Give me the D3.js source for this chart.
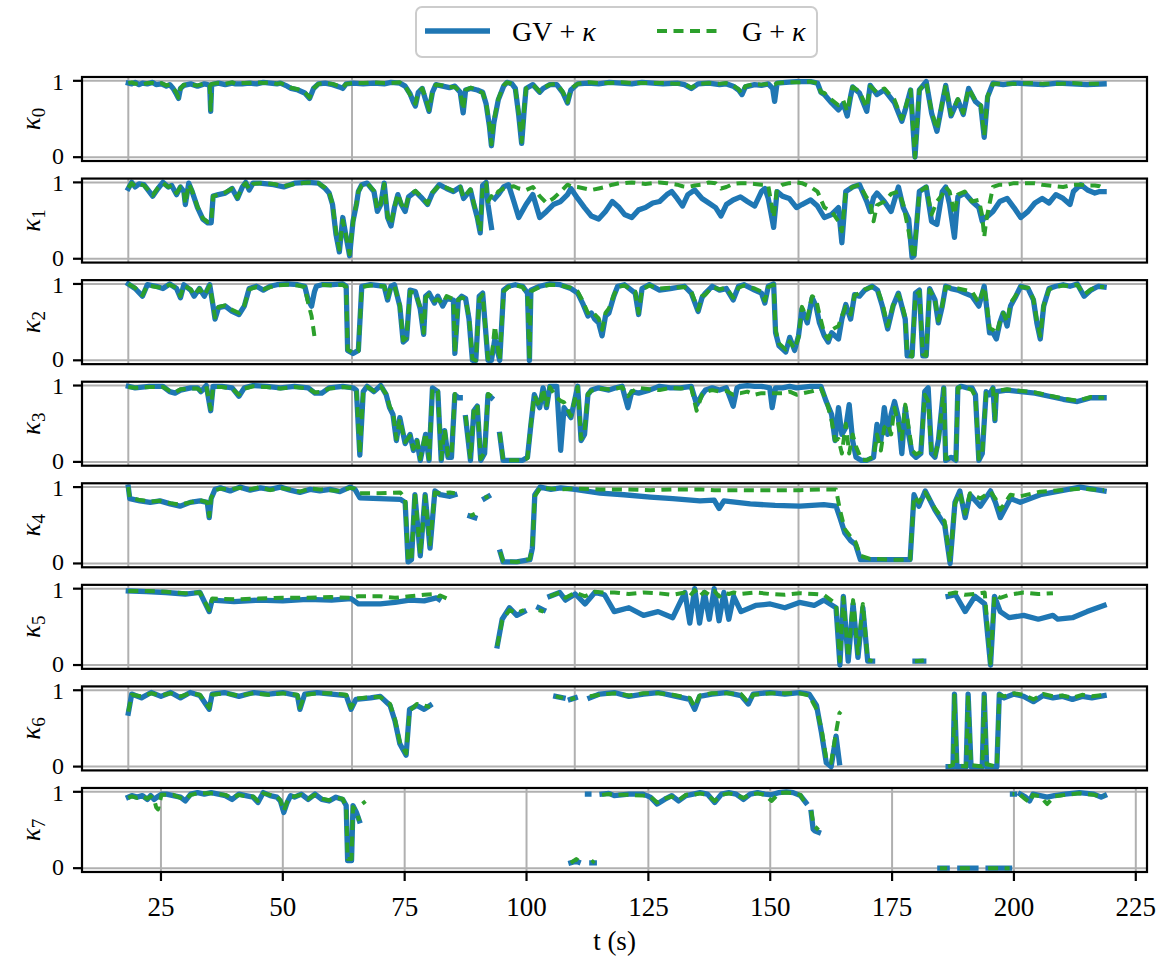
<!DOCTYPE html>
<html>
<head>
<meta charset="utf-8">
<script src="https://cdn.jsdelivr.net/npm/d3@7"></script>
<style>
  body { margin: 0; background: #fff; }
  svg text { font-family: "Liberation Serif", "DejaVu Serif", serif; fill: #000; }
</style>
</head>
<body>
<div id="chart"></div>
<script>
// Each row: [t (s), GV+κ, G+κ]; null marks a gap in that series.
const kappa0 = [
  [18.3,.97,.97],[19.0,.96,.98],[19.7,.98,.96],[20.5,.95,.97],[21.2,.97,.95],[22.2,.96,.97],[23.3,.98,.97],
  [24.0,.95,.96],[25.1,.96,.97],[26.1,.93,.94],[26.8,.95,.95],[27.5,.90,.91],[28.2,.82,.84],[28.6,.77,.78],
  [29.0,.90,.90],[29.7,.94,.95],[31.1,.96,.95],[32.5,.93,.94],[33.9,.96,.96],[34.6,.95,.96],[35.0,.94,.95],
  [35.2,.60,.62],[35.4,.95,.96],[36.8,.97,.97],[38.2,.95,.96],[39.6,.97,.98],[40.3,.96,.96],[41.7,.96,.97],
  [43.1,.97,.97],[44.6,.96,.98],[46.0,.98,.97],[47.4,.97,.98],[48.8,.96,.96],[49.5,.97,.97],[50.9,.93,.94],
  [51.7,.90,.91],[53.1,.88,.89],[54.5,.84,.85],[55.5,.77,.78],[56.3,.90,.90],[57.3,.96,.96],[58.7,.97,.97],
  [60.2,.95,.96],[61.6,.92,.93],[62.3,.90,.91],[63.0,.96,.96],[64.4,.97,.97],[66.5,.96,.97],[68.7,.97,.98],
  [70.8,.96,.97],[72.2,.98,.97],[74.0,.97,.98],[75.1,.93,.93],[76.1,.83,.82],[76.8,.72,.75],[77.2,.67,.70],
  [77.8,.85,.86],[78.6,.90,.90],[79.3,.75,.78],[80.0,.60,.62],[80.7,.85,.86],[81.4,.95,.95],[82.8,.93,.94],
  [84.2,.91,.92],[85.3,.93,.92],[86.4,.85,.86],[87.0,.58,.62],[87.5,.88,.88],[88.5,.90,.91],[89.9,.88,.88],
  [91.0,.85,.84],[91.7,.70,.72],[92.4,.40,.42],[92.8,.15,.17],[93.3,.45,.48],[94.2,.75,.76],[95.3,.93,.94],
  [96.0,.98,.98],[97.0,.96,.96],[97.7,.90,.90],[98.4,.55,.58],[99.0,.18,.20],[99.5,.60,.62],[99.9,.90,.90],
  [101.3,.95,.95],[102.7,.85,.86],[103.4,.90,.91],[104.8,.95,.95],[106.2,.95,.96],[107.4,.85,.86],
  [108.4,.71,.72],[109.1,.88,.90],[110.5,.96,.96],[112.6,.97,.98],[114.8,.96,.97],[117.0,.98,.97],
  [119.4,.97,.98],[121.6,.96,.97],[123.7,.98,.97],[125.9,.97,.97],[128.0,.96,.97],[130.9,.97,.96],
  [132.4,.95,.96],[133.8,.90,.91],[135.2,.96,.96],[137.4,.97,.97],[139.6,.95,.96],[141.0,.96,.97],
  [142.4,.93,.94],[143.5,.88,.89],[144.2,.82,.83],[144.9,.92,.93],[146.8,.95,.96],[148.2,.94,.95],
  [149.6,.96,.96],[150.5,.90,.95],[150.9,.73,.95],[151.4,.97,.97],[153.2,.98,.98],[155.4,.99,.98],
  [158.3,.99,.99],[159.7,.97,.97],[160.4,.85,.85],[161.1,.82,.84],[162.6,.71,.75],[164.0,.62,.68],
  [165.0,.70,.74],[165.8,.54,.60],[166.5,.80,.82],[166.9,.92,.92],[168.3,.84,.86],[169.8,.60,.65],
  [170.5,.94,.93],[171.9,.82,.85],[173.4,.88,.90],[175.5,.71,.75],[177.0,.47,.50],[177.7,.62,.64],
  [178.8,.88,.88],[179.7,.0,.0],[180.6,.88,.88],[182.0,.99,.98],[183.1,.58,.60],[184.2,.34,.36],
  [185.3,.71,.72],[186.0,.94,.94],[187.1,.54,.56],[188.5,.75,.76],[189.6,.56,.58],[190.7,.90,.90],
  [192.1,.73,.74],[193.2,.67,.68],[193.9,.26,.28],[194.6,.79,.80],[195.7,.97,.96],[197.8,.95,.96],
  [200.0,.97,.96],[203.0,.96,.97],[206.0,.95,.96],[209.0,.97,.96],[212.0,.96,.97],[215.0,.95,.96],[218.5,.96,.96]
];

const kappa1 = [
  [18.3,.92,.93],[19.0,1.0,.99],[19.7,.94,.95],[20.5,.98,.98],[21.5,.97,.96],[22.6,.88,.89],[23.3,.82,.83],
  [24.4,.92,.93],[25.4,1.0,.99],[26.5,.94,.94],[27.2,.96,.96],[28.2,.84,.86],[29.0,.94,.94],[29.7,.88,.88],
  [30.0,.71,.72],[30.7,.99,.98],[31.4,.88,.89],[32.5,.67,.68],[33.6,.52,.53],[34.6,.47,.48],[35.3,.47,.48],
  [35.7,.82,.82],[36.8,.84,.84],[38.2,.86,.87],[39.6,.92,.92],[40.7,.79,.80],[41.7,.94,.95],[42.4,1.0,.99],
  [43.1,.90,.91],[43.9,.99,.98],[45.3,.99,.99],[48.1,.97,.98],[50.2,.94,.95],[52.4,.99,.98],[55.2,1.0,1.0],
  [57.3,.99,.99],[58.7,.92,.93],[59.5,.86,.87],[60.2,.71,.72],[60.9,.32,.36],[61.6,.09,.12],[62.3,.54,.50],
  [63.0,.28,.30],[63.7,.04,.06],[64.4,.49,.48],[65.1,.71,.72],[65.5,.88,.88],[66.2,.97,.96],[67.3,.99,.99],
  [68.7,.88,.89],[69.4,.62,.64],[70.1,.71,.72],[70.8,.99,.98],[71.5,.54,.56],[72.2,.43,.45],[72.9,.67,.68],
  [73.6,.84,.85],[74.3,.71,.72],[75.1,.62,.64],[75.8,.81,.82],[77.2,.88,.89],[78.6,.79,.80],[79.7,.71,.72],
  [80.7,.86,.87],[82.1,.97,.96],[83.6,.92,.93],[85.0,.88,.89],[86.4,.94,.94],[87.1,.79,.80],[88.5,.90,.91],
  [89.2,.71,.72],[89.9,.54,.55],[90.5,.34,.36],[91.0,.96,.95],[91.7,1.0,.99],[92.1,.71,.75],[92.8,.41,.82],
  [93.1,null,.80],[93.5,.79,.80],[94.2,.84,.88],[95.3,.94,.92],[96.3,.97,.94],[97.4,.75,.95],[98.4,.54,.92],
  [99.9,.71,.90],[101.3,.84,.94],[102.7,.54,.82],[104.1,.62,.73],[105.5,.71,.79],[107.0,.75,.88],
  [108.4,.84,.97],[109.1,.92,.95],[110.5,.79,.94],[111.9,.67,.92],[113.3,.56,.90],[114.8,.52,.92],
  [116.2,.62,.94],[117.6,.75,.97],[119.0,.67,.99],[120.1,.58,.99],[121.6,.54,1.0],[123.0,.64,.99],
  [124.4,.67,.98],[125.9,.73,.99],[127.3,.75,1.0],[128.8,.84,.99],[129.8,.88,.98],[130.9,.79,.97],
  [132.0,.69,.95],[133.1,.84,.94],[134.5,.90,.96],[136.0,.79,.97],[137.4,.73,1.0],[138.8,.67,.99],
  [139.9,.56,.92],[141.0,.71,.94],[142.4,.77,.98],[143.9,.81,.99],[145.3,.75,.99],[146.8,.69,.98],
  [148.2,.88,.97],[148.9,.92,.97],[149.6,.79,.96],[150.7,.41,.54],[151.4,.88,.92],[152.5,.82,.97],
  [153.9,.79,.99],[155.4,.67,1.0],[156.5,.71,.99],[158.3,.77,.94],[159.7,.69,.88],[161.1,.54,.67],
  [162.6,.58,.62],[164.0,.67,.49],[164.7,.21,.36],[165.5,.88,.88],[166.9,.94,.94],[168.3,.97,.97],
  [169.8,.75,.80],[170.5,.62,.75],[171.2,.80,.49],[171.9,.86,.70],[173.4,.75,.75],[174.8,.62,.85],
  [176.3,.94,.88],[177.3,.67,.71],[178.4,.52,.36],[179.1,.02,.10],[179.5,.04,.0],[180.6,.88,.88],
  [182.0,.94,.94],[183.1,.49,.58],[184.2,.45,.75],[185.3,.88,.84],[186.0,.94,.94],[186.8,.71,.88],
  [187.8,.28,.58],[188.5,.81,.84],[189.9,.86,.88],[191.4,.75,.75],[192.8,.67,.77],[193.5,.49,.56],
  [193.9,.54,.28],[194.3,.54,.50],[195.7,.62,.94],[197.1,.75,.97],[198.6,.79,.97],[200.0,.67,.99],
  [201.4,.54,.99],[202.9,.62,.99],[204.3,.73,.99],[205.8,.79,.97],[207.2,.73,.96],[208.6,.84,.95],
  [210.1,.79,.94],[211.5,.71,.96],[212.2,.88,.97],[213.7,.97,.97],[215.1,.90,.96],[216.6,.86,.96],
  [217.6,.88,.95],[218.5,.88,.92]
];

const kappa2 = [
  [18.3,1.0,1.0],[19.7,.94,.95],[21.2,.84,.85],[22.2,.99,.98],[24.0,.97,.96],[25.4,.94,.95],[26.8,1.0,.99],
  [28.2,.94,.95],[29.0,.82,.84],[29.7,.99,.98],[31.1,.92,.93],[31.8,.84,.85],[32.9,.94,.94],[33.9,.84,.85],
  [35.0,.99,.98],[35.7,.71,.73],[36.1,.54,.56],[36.8,.69,.70],[38.2,.71,.72],[39.6,.64,.66],[41.0,.60,.62],
  [42.1,.71,.72],[43.1,.94,.93],[44.6,.97,.96],[46.0,.92,.93],[47.4,.97,.96],[48.8,.99,.98],[50.9,1.0,.99],
  [53.1,.99,.98],[54.5,.97,.96],[55.2,.79,.75],[55.9,.71,.58],[56.5,.90,.31],[56.9,.97,null],[58.0,.99,.99],
  [60.2,.99,.98],[62.3,1.0,.99],[63.0,.97,.96],[63.3,.13,.14],[64.4,.09,.10],[65.5,.13,.12],[66.2,.97,.96],
  [68.0,.99,.98],[70.8,.97,.97],[71.5,.79,.82],[72.2,.97,.96],[72.9,.99,.98],[74.0,.71,.72],[74.7,.24,.26],
  [75.4,.28,.30],[76.1,.92,.90],[77.2,.90,.88],[78.2,.67,.70],[78.9,.34,.36],[79.3,.84,.82],[80.0,.88,.86],
  [81.1,.75,.78],[81.8,.84,.80],[82.8,.71,.74],[83.6,.81,.84],[85.0,.79,.80],[85.3,.09,.10],[86.0,.79,.80],
  [86.7,.84,.82],[87.5,.81,.80],[88.2,.54,.56],[88.9,.0,.02],[89.6,.0,.0],[90.3,.84,.80],[91.0,.88,.86],
  [92.1,.0,.02],[92.8,.0,.0],[93.5,.28,.45],[94.5,.0,.0],[95.3,.92,.90],[96.3,.97,.96],[97.7,.99,.98],
  [99.2,.97,.96],[100.2,.88,.86],[100.6,.0,.0],[100.9,.92,.90],[102.7,.97,.96],[104.8,1.0,.99],
  [106.9,.99,.98],[109.1,.94,.95],[110.5,.88,.90],[111.5,.75,.78],[112.6,.58,.62],[113.3,.62,.65],
  [114.0,.54,.60],[114.8,.49,.55],[115.5,.32,.40],[116.2,.58,.62],[116.9,.62,.68],[117.9,.84,.85],
  [118.7,.97,.96],[120.1,.99,.98],[122.3,.88,.90],[123.0,.60,.62],[123.7,.94,.93],[125.2,.99,.98],
  [127.3,.92,.94],[129.5,.94,.95],[132.4,.97,.96],[133.8,.88,.90],[135.2,.64,.66],[136.0,.82,.84],
  [136.7,.88,.86],[138.1,.97,.96],[139.6,.92,.93],[141.0,.94,.95],[142.4,.79,.82],[143.5,.97,.95],
  [144.6,.99,.98],[146.8,.92,.94],[148.2,.88,.90],[148.9,.75,.78],[149.6,.97,.96],[150.7,1.0,.99],
  [151.1,.36,.40],[151.8,.19,.22],[153.2,.11,.14],[154.0,.30,.25],[155.0,.13,.15],[155.8,.32,.30],
  [156.5,.67,.70],[157.6,.49,.55],[158.6,.82,.84],[159.4,.71,.80],[160.1,.49,.60],[161.1,.32,.35],
  [161.9,.24,.28],[162.6,.36,.40],[164.0,.28,.45],[164.7,.54,.58],[165.5,.73,.70],[166.5,.54,.60],
  [167.3,.86,.85],[168.3,.84,.88],[169.4,.92,.93],[170.9,.97,.96],[172.0,.92,.93],[173.0,.71,.75],
  [174.1,.41,.45],[175.2,.71,.72],[176.3,.88,.86],[177.0,.71,.74],[177.7,.54,.56],[178.1,.06,.08],
  [179.1,.06,.05],[179.8,.88,.85],[180.6,.92,.90],[181.3,.06,.08],[182.0,.06,.06],[182.7,.94,.92],
  [183.8,.79,.80],[184.5,.49,.52],[185.3,.71,.72],[186.0,.97,.96],[187.1,.94,.95],[188.5,.92,.94],
  [189.9,.88,.92],[191.4,.84,.90],[192.8,.71,.75],[193.9,.97,.96],[194.3,.75,.80],[195.0,.36,.42],
  [195.7,.36,.40],[196.4,.28,.35],[197.1,.49,.50],[197.8,.62,.62],[198.6,.45,.50],[199.3,.71,.75],
  [200.4,.84,.85],[201.4,.97,.96],[202.9,.94,.95],[204.0,.79,.80],[204.7,.49,.52],[205.4,.28,.32],
  [206.1,.71,.72],[207.2,.94,.93],[208.6,.97,.96],[210.1,.99,.98],[211.5,.97,.97],[213.0,1.0,.99],
  [214.4,.84,.86],[215.8,.92,.93],[217.3,.97,.96],[218.5,.96,.96]
];

const kappa3 = [
  [18.3,.99,.98],[19.7,.97,.97],[22.6,.99,.98],[25.4,.99,.98],[26.8,.92,.93],[27.9,.90,.91],[29.0,.94,.95],
  [31.1,.97,.96],[32.5,.97,.96],[33.2,.92,.93],[34.3,1.0,.99],[35.2,.67,.69],[35.7,.99,.98],[37.5,.99,.98],
  [39.6,.97,.96],[41.0,.86,.88],[42.1,.97,.96],[43.9,1.0,.99],[46.7,.99,.98],[49.5,.97,.96],[52.4,.99,.98],
  [55.2,.97,.96],[56.6,.90,.91],[58.0,.90,.92],[59.5,.97,.96],[62.3,.99,.98],[64.4,.97,.97],[65.1,.94,.95],
  [65.8,.09,.10],[66.5,.92,.93],[67.3,.99,.98],[68.7,.92,.93],[70.1,1.0,.99],[71.2,.88,.89],[71.9,.71,.73],
  [72.6,.62,.65],[73.3,.28,.30],[74.0,.58,.56],[75.1,.24,.26],[76.1,.36,.34],[76.8,.15,.17],[77.5,.28,.30],
  [78.2,.02,.04],[79.3,.36,.38],[80.0,.02,.04],[80.7,.97,.96],[81.8,.92,.93],[82.5,.02,.04],[83.2,.41,.43],
  [83.9,.06,.08],[84.6,.06,.08],[85.3,.88,.89],[86.0,.84,.86],[86.4,.84,.86],[86.5,null,null],[87.5,.58,.60],
  [88.5,.02,.04],[89.2,.67,.69],[89.9,.73,.75],[90.6,.02,.04],[91.4,.11,.13],[92.1,.88,.89],[92.8,.84,.86],
  [93.0,null,null],[94.5,.36,.38],[95.2,.02,.03],[96.3,.02,.02],[97.7,.02,.02],[99.2,.02,.02],[100.2,.06,.05],
  [100.9,.49,.50],[101.6,.88,.87],[102.7,.71,.72],[103.4,.97,.96],[104.1,.71,.72],[104.8,.99,.98],
  [106.2,.99,.84],[107.0,.15,.80],[107.7,.71,.78],[109.1,.58,.60],[110.5,.99,.98],[111.2,.28,.30],
  [111.9,.36,.38],[112.6,.88,.89],[113.3,.94,.93],[114.8,.97,.96],[116.9,.94,.95],[118.3,.97,.96],
  [119.6,.99,.98],[120.8,.71,.86],[121.6,.92,.92],[123.0,.90,.97],[125.2,.94,.95],[127.3,.99,.94],
  [129.5,.97,.97],[131.6,.97,.96],[133.8,.99,.97],[134.9,.75,.67],[136.0,.88,.88],[136.7,.94,.92],
  [138.1,.97,.94],[139.6,.94,.92],[141.0,.97,.93],[142.4,.73,.88],[143.2,.97,.90],[143.9,.99,.90],
  [145.3,1.0,.92],[146.8,.99,.88],[148.2,.99,.90],[149.9,.97,.90],[150.4,.71,.90],[151.1,.97,.90],
  [152.5,.97,.90],[154.0,.99,.92],[155.4,.97,.88],[158.3,.99,.92],[160.4,.99,.96],[161.5,.79,.81],
  [162.6,.62,.54],[163.3,.28,.28],[164.0,.71,.30],[164.7,.36,.11],[165.5,.45,.50],[166.2,.75,.11],
  [166.9,.28,.36],[167.6,.06,.20],[168.7,.02,.03],[169.8,.02,.02],[171.2,.06,.07],[171.9,.49,.36],
  [172.7,.28,.15],[173.4,.71,.45],[174.1,.36,.50],[174.8,.62,.36],[175.5,.79,.71],[176.3,.58,.49],
  [177.0,.11,.30],[177.7,.71,.75],[178.4,.36,.45],[179.1,.11,.15],[179.9,.06,.10],[180.9,.11,.13],
  [181.7,.92,.88],[182.4,.97,.80],[183.1,.11,.09],[183.8,.06,.08],[184.5,.28,.25],[185.6,.97,.96],
  [186.0,.02,.04],[187.1,.06,.06],[188.1,.02,.03],[188.5,.97,.97],[189.2,.99,.98],[190.3,.97,.97],
  [191.4,.97,.94],[192.1,.88,.85],[192.8,.02,.04],[193.5,.11,.12],[194.3,.92,.90],[195.0,.88,.89],
  [195.7,.97,.96],[196.1,.54,.56],[196.4,.92,.93],[198.6,.94,.95],[201.4,.92,.93],[204.3,.90,.91],
  [207.2,.86,.87],[210.1,.82,.83],[213.0,.79,.80],[215.8,.84,.85],[218.5,.84,.84]
];

const kappa4 = [
  [18.3,1.0,1.0],[18.6,.85,.86],[20.7,.82,.83],[22.8,.80,.81],[24.8,.82,.82],[26.9,.78,.79],[28.9,.75,.77],
  [31.0,.80,.80],[33.0,.82,.83],[34.5,.80,.80],[34.9,.60,.62],[35.3,.85,.86],[36.1,.97,.96],[37.2,.99,.98],
  [39.2,.95,.97],[41.2,1.0,.99],[43.3,.96,.97],[45.4,.99,1.0],[47.4,.97,.96],[49.5,1.0,.99],[51.5,.96,.97],
  [53.5,.93,.94],[55.6,.97,.98],[57.6,.95,.97],[59.7,.97,.96],[61.7,.94,.95],[63.8,1.0,.99],[64.8,.97,.98],
  [65.8,.86,.92],[69.9,.85,.92],[74.1,.84,.93],[75.1,.80,.85],[75.7,.02,.03],[76.4,.05,.06],[77.1,.90,.92],
  [78.2,.10,.12],[79.2,.90,.88],[80.2,.20,.25],[81.2,.95,.93],[82.3,.90,.92],[84.3,.88,.93],[85.3,.90,.92],
  [85.6,null,null],[88.4,.62,.62],[89.4,.60,.65],[90.0,null,null],[91.4,.85,.86],[92.2,.88,.88],[92.5,null,null],
  [94.6,.15,.15],[95.2,.02,.03],[98.0,.02,.02],[100.7,.05,.06],[101.2,.20,.22],[101.7,.90,.88],[102.8,1.0,.99],
  [105.0,.97,.98],[107.0,.99,.97],[109.9,.97,.98],[115.1,.92,.97],[120.0,.90,.97],[125.4,.87,.96],
  [130.0,.85,.97],[135.6,.82,.97],[138.5,.83,.96],[139.5,.72,.96],[140.5,.82,.96],[145.9,.78,.96],
  [151.0,.76,.96],[156.1,.75,.96],[161.0,.77,.97],[163.5,.75,.97],[164.3,.60,.70],[165.3,.40,.45],
  [166.5,.30,.35],[167.5,.25,.28],[168.5,.05,.10],[170.5,.05,.06],[175.0,.05,.05],[178.7,.05,.05],
  [179.5,.90,.88],[180.5,.75,.80],[181.8,.95,.93],[183.8,.70,.72],[185.8,.50,.55],[186.9,.0,.02],
  [187.9,.80,.78],[188.9,.95,.93],[190.0,.60,.65],[191.0,.90,.92],[193.1,.75,.85],[195.2,.95,.94],
  [196.2,.80,.85],[197.2,.60,.70],[199.3,.85,.90],[201.3,.80,.88],[205.4,.90,.94],[209.5,.95,.96],
  [213.6,1.0,.98],[218.5,.95,.96]
];

const kappa5 = [
  [18.3,.97,.97],[22.0,.96,.97],[26.0,.95,.96],[30.0,.93,.94],[33.0,.95,.95],[34.9,.70,.72],[35.5,.85,.87],
  [40.0,.83,.86],[45.0,.85,.87],[50.0,.84,.88],[55.0,.86,.88],[60.0,.85,.89],[64.0,.87,.88],[65.5,.80,.90],
  [70.0,.80,.90],[73.0,.82,.88],[76.0,.85,.90],[79.0,.84,.92],[81.5,.88,.93],[82.0,.86,.90],[82.3,null,.91],
  [84.0,null,.86],[84.3,null,null],[94.0,.25,.25],[95.0,.60,.58],[96.5,.75,.72],[98.0,.65,.68],[99.5,.70,.72],
  [99.8,null,null],[102.5,.75,.72],[103.5,.72,.70],[103.8,null,null],[104.8,.90,.90],[106.8,.95,.95],
  [108.0,.85,.88],[110.0,.93,.95],[112.0,.80,.90],[114.0,.95,.96],[116.0,.92,.95],[118.0,.70,.95],
  [121.0,.75,.93],[124.0,.65,.95],[127.0,.70,.94],[130.0,.62,.92],[132.5,.95,.95],[133.5,.55,.90],
  [134.5,1.0,.98],[135.5,.55,.90],[136.5,.95,.96],[137.5,.60,.92],[138.5,1.0,.97],[139.5,.58,.90],
  [140.5,.95,.95],[141.5,.60,.93],[142.5,.90,.95],[144.0,.70,.93],[147.0,.78,.95],[150.0,.80,.93],
  [153.0,.75,.92],[156.0,.82,.94],[159.0,.78,.93],[161.0,.85,.92],[163.5,.75,.80],[164.3,.0,.05],
  [165.0,.90,.88],[166.0,.05,.10],[167.0,.80,.85],[168.0,.10,.15],[169.0,.75,.80],[170.0,.05,.07],
  [171.0,.05,.05],[171.3,null,null],[179.7,.05,.05],[181.5,.05,.06],[181.8,null,null],[186.5,.90,.93],
  [188.0,.92,.95],[190.0,.70,.92],[192.0,.90,.93],[194.0,.80,.95],[195.2,.0,.02],[196.0,.90,.92],
  [197.2,.70,.88],[199.0,.62,.92],[202.0,.65,.95],[205.0,.60,.93],[208.0,.65,.94],[209.0,.60,null],
  [212.0,.62,null],[215.0,.70,null],[218.5,.78,null]
];

const kappa6 = [
  [18.3,.70,.72],[19.0,.95,.94],[21.0,.90,.92],[23.0,.97,.96],[25.0,.92,.93],[27.0,.97,.96],[29.0,.90,.92],
  [31.0,.97,.96],[33.0,.93,.94],[34.9,.75,.77],[35.5,.95,.94],[38.0,.97,.96],[41.0,.92,.93],[44.0,.97,.96],
  [47.0,.95,.94],[50.0,.97,.96],[53.0,.93,.94],[53.5,.75,.77],[54.5,.95,.94],[57.0,.97,.96],[60.0,.95,.96],
  [63.0,.93,.94],[64.0,.75,.77],[65.0,.88,.89],[68.0,.90,.91],[70.0,.92,.91],[72.0,.80,.82],[73.0,.60,.62],
  [74.0,.30,.32],[75.3,.15,.17],[76.0,.75,.73],[77.5,.80,.82],[79.0,.75,.80],[80.2,.80,.78],[80.5,null,null],
  [106.0,.92,.92],[107.5,.90,.90],[107.8,null,null],[109.0,.88,.88],[110.0,.90,.90],[110.3,null,null],
  [113.0,.90,.92],[115.0,.95,.94],[118.0,.97,.96],[121.0,.92,.93],[124.0,.95,.96],[127.0,.97,.96],
  [130.0,.93,.94],[133.5,.88,.90],[134.5,.75,.78],[135.5,.92,.93],[138.0,.95,.96],[141.0,.97,.96],
  [144.0,.93,.95],[145.5,.82,.84],[146.5,.95,.94],[150.0,.97,.96],[153.0,.95,.96],[156.0,.97,.96],
  [158.0,.95,.93],[159.5,.80,.75],[160.5,.45,.50],[161.5,.05,.10],[162.5,.0,.05],[163.5,.40,.45],
  [164.2,.05,.70],[164.5,null,.72],[164.7,null,null],[186.5,.0,.0],[187.5,.0,.02],[187.8,.95,.93],
  [188.3,.0,.02],[190.2,.0,.0],[190.6,.95,.94],[191.2,.0,.02],[193.5,.0,.0],[193.9,.95,.94],[194.4,.0,.03],
  [196.5,.0,.0],[197.0,.95,.94],[198.0,.90,.92],[200.0,.95,.96],[202.0,.92,.94],[204.0,.85,.88],
  [206.0,.93,.95],[208.0,.90,.92],[210.0,.92,.93],[212.0,.88,.90],[214.0,.92,.94],[216.0,.90,.92],
  [218.5,.93,.94]
];

const kappa7 = [
  [18.3,.93,.92],[19.0,.95,.94],[20.1,.93,.92],[21.2,.95,.94],[22.2,.90,.91],[22.9,.95,.94],[23.6,.90,.90],
  [24.0,.92,.80],[24.4,.94,.77],[25.1,.97,.96],[26.1,.97,.96],[27.5,.95,.96],[29.0,.93,.92],[30.0,.88,.90],
  [31.1,.97,.96],[32.5,.99,.98],[33.9,.97,.98],[35.3,.99,.98],[36.8,.97,.97],[38.2,.95,.96],[39.6,.90,.92],
  [41.0,.97,.96],[42.4,.95,.94],[43.9,.93,.94],[44.9,.86,.88],[46.0,.99,.98],[47.4,.95,.96],[48.8,.93,.94],
  [49.5,.88,.89],[50.2,.73,.75],[50.9,.86,.87],[51.6,.95,.94],[52.4,.93,.94],[53.8,.97,.96],[55.2,.90,.91],
  [56.6,.97,.96],[58.0,.90,.91],[59.5,.88,.89],[60.9,.93,.92],[62.3,.90,.91],[63.0,.82,.80],[63.3,.10,.12],
  [64.1,.10,.12],[64.4,.82,.80],[65.1,.73,.75],[65.7,.62,.62],[65.9,null,null],[66.4,null,.88],[66.9,null,.84],
  [67.2,null,null],[109.1,.07,.07],[110.2,.09,.12],[110.6,.08,.10],[111.0,null,null],[112.5,.97,null],
  [112.8,.97,null],[112.9,null,null],[113.4,.07,.07],[113.9,.07,.10],[114.1,null,null],[115.5,.97,.96],
  [116.9,.98,.97],[118.0,.95,.96],[121.0,.97,.96],[123.9,.97,.95],[125.4,.93,.94],[126.8,.84,.86],
  [128.3,.90,.91],[129.8,.95,.94],[131.2,.88,.89],[132.7,.95,.96],[134.2,.97,.96],[135.6,.99,.98],
  [137.1,.97,.96],[138.6,.86,.88],[140.0,.97,.96],[141.5,.99,.98],[143.0,.97,.96],[144.5,.90,.92],
  [145.9,.97,.96],[147.4,.99,.98],[148.9,.97,.96],[150.3,.96,.88],[151.8,.99,.98],[153.3,1.0,.99],
  [154.7,.99,.98],[156.2,.95,.96],[157.3,.86,.84],[157.6,null,null],[158.4,.73,.75],[158.8,.51,.60],
  [159.1,.49,.55],[159.9,.47,.50],[160.2,null,null],[184.8,.0,.0],[186.3,.0,.0],[186.5,null,null],
  [188.9,.0,.0],[192.2,.0,.0],[192.4,null,null],[194.7,.0,.0],[199.1,.0,.0],[199.3,null,null],
  [199.7,.97,.97],[200.1,.97,.97],[200.3,null,null],[201.3,.97,.96],[202.4,.93,.90],[203.2,.88,.86],
  [203.9,.97,.96],[205.4,.95,.94],[206.8,.93,.84],[208.3,.95,.94],[210.5,.97,.96],[213.4,.99,.98],
  [216.4,.97,.96],[217.9,.93,.94],[218.6,.95,.95]
];

const panels = [kappa0, kappa1, kappa2, kappa3, kappa4, kappa5, kappa6, kappa7];
const panelIndex = ["0", "1", "2", "3", "4", "5", "6", "7"];
const seriesNames = ["GV\u2005+\u2005", "G\u2005+\u2005"];
const seriesColors = ["#1f77b4", "#2ca02c"];
const upperGridT = [18.3, 64.2, 109.9, 155.8, 201.6];
const bottomTicks = [25, 50, 75, 100, 125, 150, 175, 200, 225];
const yTicks = [0, 1];

const W = 1161, H = 964;
const axLeft = 82, axRight = 1147;
const firstTop = 77, pitch = 101.57, axH = 84;
const tickLen = 9, tickPad = 9, fontSize = 27, yTickFont = 24;

const svg = d3.select("#chart").append("svg")
  .attr("width", W).attr("height", H)
  .attr("viewBox", `0 0 ${W} ${H}`);
svg.append("rect").attr("width", W).attr("height", H).attr("fill", "#fff");

const x = d3.scaleLinear().domain([8.8, 227.3]).range([axLeft, axRight]);
const y = d3.scaleLinear().domain([-0.05, 1.05]).range([axH, 0]);

svg.append("defs").append("clipPath").attr("id", "plotClip")
  .append("rect").attr("x", axLeft).attr("y", 0)
  .attr("width", axRight - axLeft).attr("height", axH);

panels.forEach((rows, i) => {
  const top = firstTop + i * pitch;
  const g = svg.append("g").attr("transform", `translate(0,${top})`);
  const isLast = i === panels.length - 1;

  // grid lines
  const grid = g.append("g").attr("stroke", "#b0b0b0").attr("stroke-width", 2);
  const vGrid = isLast ? bottomTicks : upperGridT;
  grid.selectAll("line.v").data(vGrid.filter(t => x(t) > axLeft && x(t) < axRight)).join("line")
    .attr("class", "v")
    .attr("x1", d => x(d)).attr("x2", d => x(d)).attr("y1", 0).attr("y2", axH);
  grid.selectAll("line.h").data(yTicks).join("line")
    .attr("class", "h")
    .attr("x1", axLeft).attr("x2", axRight).attr("y1", d => y(d)).attr("y2", d => y(d));

  // the two series
  const plot = g.append("g").attr("clip-path", "url(#plotClip)");
  [1, 2].forEach(k => {
    const line = d3.line()
      .defined(d => d[k] !== null)
      .x(d => x(d[0]))
      .y(d => y(d[k]));
    const p = plot.append("path").datum(rows)
      .attr("fill", "none")
      .attr("stroke", seriesColors[k - 1])
      .attr("stroke-linejoin", "round")
      .attr("d", line);
    if (k === 1) {
      p.attr("stroke-width", 5.3).attr("stroke-linecap", "square");
    } else {
      p.attr("stroke-width", 4).attr("stroke-dasharray", "10,6.5");
    }
  });

  // frame
  g.append("rect").attr("x", axLeft).attr("y", 0)
    .attr("width", axRight - axLeft).attr("height", axH)
    .attr("fill", "none").attr("stroke", "#000").attr("stroke-width", 2.2);

  // y ticks (labels nudged 1px apart so neighbouring panels' labels stay clear)
  const yt = g.append("g");
  yt.selectAll("line").data(yTicks).join("line")
    .attr("x1", axLeft - tickLen).attr("x2", axLeft).attr("y1", d => y(d)).attr("y2", d => y(d))
    .attr("stroke", "#000").attr("stroke-width", 2.2);
  yt.selectAll("text").data(yTicks).join("text")
    .attr("x", axLeft - tickLen - tickPad)
    .attr("y", d => y(d) + (d === 0 ? -1 : 1)).attr("dy", "0.33em")
    .attr("text-anchor", "end").attr("font-size", yTickFont).text(d => d);

  // y label
  const lab = g.append("text")
    .attr("transform", `translate(40,${axH / 2}) rotate(-90)`)
    .attr("text-anchor", "middle").attr("font-size", fontSize);
  lab.append("tspan").attr("font-style", "italic").text("κ");
  lab.append("tspan").attr("font-size", 19).attr("dy", 5).text(panelIndex[i]);

  if (isLast) {
    const xt = g.append("g");
    xt.selectAll("line").data(bottomTicks).join("line")
      .attr("x1", d => x(d)).attr("x2", d => x(d)).attr("y1", axH).attr("y2", axH + tickLen)
      .attr("stroke", "#000").attr("stroke-width", 2.2);
    xt.selectAll("text").data(bottomTicks).join("text")
      .attr("x", d => x(d)).attr("y", axH + 44)
      .attr("text-anchor", "middle").attr("font-size", fontSize).text(d => d);
    g.append("text").attr("x", (axLeft + axRight) / 2).attr("y", axH + 78)
      .attr("text-anchor", "middle").attr("font-size", fontSize).text("t (s)");
  }
});

// legend
const leg = svg.append("g");
leg.append("rect").attr("x", 416).attr("y", 7).attr("width", 401).attr("height", 50).attr("rx", 6)
  .attr("fill", "#fff").attr("stroke", "#cccccc").attr("stroke-width", 2);
const legItems = [
  { x0: 425, x1: 490, tx: 512 },
  { x0: 657, x1: 719, tx: 742 }
];
legItems.forEach((it, k) => {
  const l = leg.append("line").attr("x1", it.x0).attr("x2", it.x1).attr("y1", 31).attr("y2", 31)
    .attr("stroke", seriesColors[k]);
  if (k === 0) l.attr("stroke-width", 5.3);
  else l.attr("stroke-width", 4).attr("stroke-dasharray", "10,6.5");
  const t = leg.append("text").attr("x", it.tx).attr("y", 41).attr("font-size", 28);
  t.append("tspan").text(seriesNames[k]);
  t.append("tspan").attr("font-style", "italic").text("κ");
});
</script>
</body>
</html>
